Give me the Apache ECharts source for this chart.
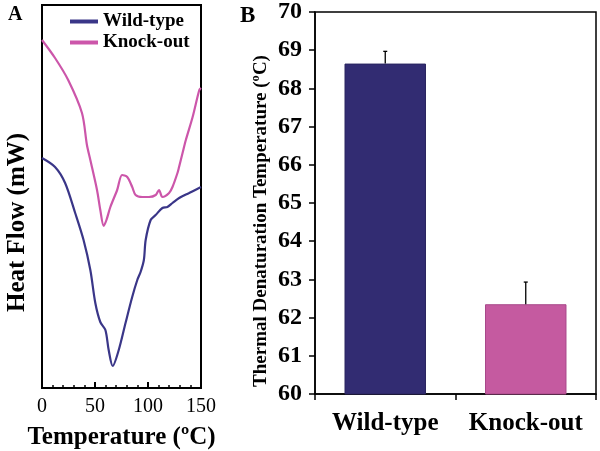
<!DOCTYPE html>
<html>
<head>
<meta charset="utf-8">
<script src="https://cdn.jsdelivr.net/npm/echarts@6/dist/echarts.min.js"></script>
<style>html,body{margin:0;padding:0;background:#fff}#c{width:600px;height:451px}</style>
</head>
<body>
<div id="c"></div>
<script>
// Panel A: DSC curves (temperature in ºC, heat flow in arbitrary units)
const wildTypeCurve = [[0,230],[12.3,221],[21.8,205],[31.3,175],[39.2,148],[45.6,118],[50.3,85],[55,66],[59.8,58],[62.9,38],[66.7,22],[72.4,38],[78.8,65],[85.1,91],[89.9,108],[93,116],[96.1,128],[97.8,148],[102.5,168],[107.2,173],[113.6,180],[118.3,181],[123.1,185],[129.4,190],[138.8,195],[150,201]];
const knockOutCurve = [[0,348],[12.3,330],[24.7,308],[37.7,275],[42.4,243],[45.6,228],[51.9,198],[55,178],[58.2,162],[60.8,168],[64.5,181],[70.9,198],[75.6,213],[80.4,211],[85.1,201],[88.3,193],[94.6,191],[100.9,191],[107.3,193],[110.4,198],[113.6,191],[119.9,195],[123.1,201],[127.8,215],[129.3,221],[132.6,235],[135.7,248],[142.1,271],[148.4,298],[150,300]];
const tempTicks = [0, 50, 100, 150];

// Panel B: thermal denaturation temperature
const categories = ['Wild-type', 'Knock-out'];
const tmValues = [68.65, 62.35];
const tmErrors = [0.32, 0.58];

const NAVY = '#322c72';
const PINK = '#c55aa0';
const LINE_NAVY = '#3a3688';
const LINE_PINK = '#cc56aa';
const FONT = '"Liberation Serif", "Times New Roman", serif';

const chart = echarts.init(document.getElementById('c'), null, {renderer: 'canvas'});
chart.setOption({
  animation: false,
  backgroundColor: '#fff',
  title: [
    {text: 'A', left: 3, top: 0, textStyle: {fontFamily: FONT, fontWeight: 'bold', fontSize: 20, color: '#000'}},
    {text: 'B', left: 235, top: 0, textStyle: {fontFamily: FONT, fontWeight: 'bold', fontSize: 23, color: '#000'}}
  ],
  legend: {
    data: ['Wild-type', 'Knock-out'],
    orient: 'vertical',
    left: 70, top: 12, padding: 0,
    icon: 'rect', itemWidth: 28, itemHeight: 4, itemGap: 2,
    textStyle: {fontFamily: FONT, fontWeight: 'bold', fontSize: 19, color: '#000', lineHeight: 19}
  },
  grid: [
    {left: 42, right: 399, top: 5, bottom: 63, show: true, borderColor: '#000', borderWidth: 2, containLabel: false, outerBoundsMode: 'none'},
    {left: 315, right: 4, top: 12, bottom: 57, show: true, borderColor: '#000', borderWidth: 1.5, containLabel: false, outerBoundsMode: 'none'}
  ],
  xAxis: [
    {
      gridIndex: 0, type: 'value', min: 0, max: 150, interval: 50,
      axisLine: {lineStyle: {color: '#000', width: 2}},
      axisTick: {inside: true, length: 6, lineStyle: {color: '#000', width: 2}},
      minorTick: {show: true, splitNumber: 5, length: 3, lineStyle: {color: '#000', width: 1.5}},
      splitLine: {show: false},
      axisLabel: {margin: 9, fontFamily: FONT, fontSize: 20, color: '#000', formatter: v => tempTicks.includes(v) ? String(v) : ''},
      name: 'Temperature (ºC)', nameLocation: 'middle', nameGap: 37,
      nameTextStyle: {fontFamily: FONT, fontWeight: 'bold', fontSize: 25, color: '#000'}
    },
    {
      gridIndex: 1, type: 'category', data: categories,
      axisLine: {lineStyle: {color: '#000', width: 1.5}},
      axisTick: {show: true, length: 6, lineStyle: {color: '#000', width: 1.5}},
      axisLabel: {interval: 0, margin: 17, fontFamily: FONT, fontWeight: 'bold', fontSize: 25, color: '#000'}
    }
  ],
  yAxis: [
    {
      gridIndex: 0, type: 'value', min: 0, max: 383,
      axisLine: {show: true, lineStyle: {color: '#000', width: 2}},
      axisTick: {show: false}, axisLabel: {show: false}, splitLine: {show: false},
      name: 'Heat Flow (mW)', nameLocation: 'middle', nameGap: 12,
      nameTextStyle: {fontFamily: FONT, fontWeight: 'bold', fontSize: 25, color: '#000', padding: [0, 52, 0, 0]}
    },
    {
      gridIndex: 1, type: 'value', min: 60, max: 70, interval: 1,
      axisLine: {show: true, lineStyle: {color: '#000', width: 1.5}},
      axisTick: {show: true, length: 6, lineStyle: {color: '#000', width: 1.5}},
      axisLabel: {margin: 13, fontFamily: FONT, fontWeight: 'bold', fontSize: 24, color: '#000'},
      splitLine: {show: false},
      name: 'Thermal Denaturation Temperature (ºC)', nameLocation: 'middle', nameGap: 44,
      nameTextStyle: {fontFamily: FONT, fontWeight: 'bold', fontSize: 19, color: '#000', padding: [0, 36, 0, 0]}
    }
  ],
  series: [
    {name: 'Wild-type', type: 'line', xAxisIndex: 0, yAxisIndex: 0, data: wildTypeCurve, showSymbol: false, smooth: 0.3,
     color: LINE_NAVY, lineStyle: {width: 2.2, color: LINE_NAVY}},
    {name: 'Knock-out', type: 'line', xAxisIndex: 0, yAxisIndex: 0, data: knockOutCurve, showSymbol: false, smooth: 0.3,
     color: LINE_PINK, lineStyle: {width: 2.2, color: LINE_PINK}},
    {name: 'Tm', type: 'bar', xAxisIndex: 1, yAxisIndex: 1, barWidth: '58%',
     data: tmValues.map((v, i) => ({value: v, itemStyle: {color: i === 0 ? NAVY : PINK, borderColor: i === 0 ? '#2a2560' : '#a8488a', borderWidth: 1}}))},
    {name: 'Tm error', type: 'custom', xAxisIndex: 1, yAxisIndex: 1,
     data: tmValues.map((v, i) => [i, v, v + tmErrors[i]]),
     renderItem: function (params, api) {
       const base = api.coord([api.value(0), api.value(1)]);
       const top = api.coord([api.value(0), api.value(2)]);
       return {type: 'group', children: [
         {type: 'line', shape: {x1: base[0], y1: base[1], x2: top[0], y2: top[1]}, style: {stroke: '#000', lineWidth: 1.3}},
         {type: 'line', shape: {x1: top[0] - 2, y1: top[1], x2: top[0] + 2, y2: top[1]}, style: {stroke: '#000', lineWidth: 1.3}}
       ]};
     }, z: 5}
  ]
});
</script>
</body>
</html>
